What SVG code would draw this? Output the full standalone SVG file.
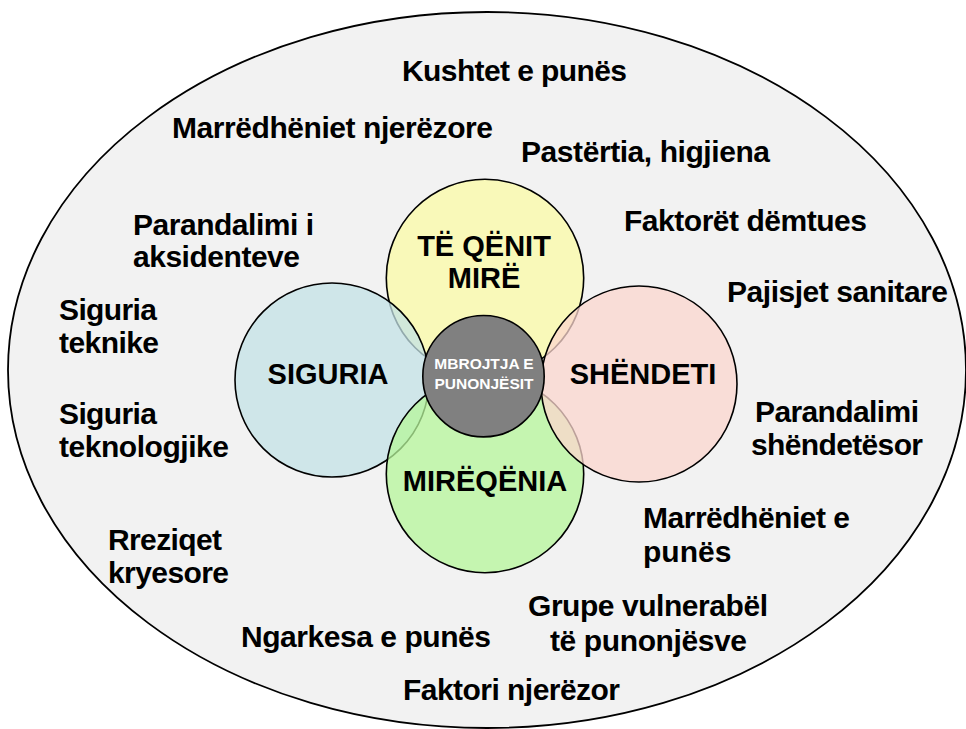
<svg xmlns="http://www.w3.org/2000/svg" width="966" height="729" viewBox="0 0 966 729">
<style>
text{font-family:"Liberation Sans",Arial,sans-serif;font-weight:bold;fill:#000}
.o{font-size:30px}
.c{font-size:29px;text-anchor:middle}
.m{font-size:15.5px;text-anchor:middle;fill:#fff}
.circ{stroke:#000;stroke-width:1.6}
</style>
<rect width="966" height="729" fill="#fff"/>
<g id="outer">
<ellipse cx="487" cy="370" rx="479" ry="358" fill="#f2f2f2" stroke="#000" stroke-width="1.8"/>
</g>
<g id="labels">
<g id="l-kushtet"><text class="o" x="402" y="81" textLength="225">Kushtet e punës</text></g>
<g id="l-marredheniet-nj"><text class="o" x="172" y="138" textLength="321">Marrëdhëniet njerëzore</text></g>
<g id="l-pastertia"><text class="o" x="521" y="162" textLength="249">Pastërtia, higjiena</text></g>
<g id="l-faktoret"><text class="o" x="624" y="231" textLength="243">Faktorët dëmtues</text></g>
<g id="l-pajisjet"><text class="o" x="727" y="302" textLength="221">Pajisjet sanitare</text></g>
<g id="l-parandalimi-a"><text class="o" x="133" y="235" textLength="181">Parandalimi i</text><text class="o" x="133" y="267" textLength="167">aksidenteve</text></g>
<g id="l-siguria-t"><text class="o" x="59" y="320" textLength="98">Siguria</text><text class="o" x="59" y="353" textLength="100">teknike</text></g>
<g id="l-siguria-tek"><text class="o" x="59" y="424" textLength="98">Siguria</text><text class="o" x="59" y="457" textLength="170">teknologjike</text></g>
<g id="l-rreziqet"><text class="o" x="108" y="550" textLength="114">Rreziqet</text><text class="o" x="108" y="583" textLength="121">kryesore</text></g>
<g id="l-parandalimi-sh"><text class="o" x="755" y="422" textLength="164">Parandalimi</text><text class="o" x="751" y="455" textLength="172">shëndetësor</text></g>
<g id="l-marredheniet-e"><text class="o" x="643" y="528" textLength="207">Marrëdhëniet e</text><text class="o" x="643" y="562">punës</text></g>
<g id="l-grupe"><text class="o" x="528" y="616" textLength="240">Grupe vulnerabël</text><text class="o" x="550" y="651" textLength="197">të punonjësve</text></g>
<g id="l-ngarkesa"><text class="o" x="241" y="647" textLength="250">Ngarkesa e punës</text></g>
<g id="l-faktori"><text class="o" x="403" y="700" textLength="217">Faktori njerëzor</text></g>
</g>
<g id="connectors"></g>
<g id="n-te-qenit-mire">
<circle class="circ" cx="485" cy="278" r="98.7" fill="#f9f9b9"/>
</g>
<g id="n-siguria">
<circle class="circ" cx="332" cy="380" r="97" fill="#c3e2e5" fill-opacity="0.75"/>
</g>
<g id="n-mireqenia">
<circle class="circ" cx="485" cy="474" r="98.7" fill="#b6f699" fill-opacity="0.75"/>
</g>
<g id="n-shendeti">
<circle class="circ" cx="639" cy="384" r="98" fill="#fbd6cd" fill-opacity="0.75"/>
</g>
<g id="n-texts">
<text class="c" x="484" y="256">TË QËNIT</text>
<text class="c" x="484" y="288">MIRË</text>
<text class="c" x="328" y="384">SIGURIA</text>
<text class="c" x="643" y="384">SHËNDETI</text>
<text class="c" x="485" y="491">MIRËQËNIA</text>
</g>
<g id="n-mbrojtja">
<circle class="circ" cx="483.5" cy="376.2" r="60.7" fill="#808080"/>
<text class="m" x="484" y="369">MBROJTJA E</text>
<text class="m" x="484" y="389">PUNONJËSIT</text>
</g>
</svg>
